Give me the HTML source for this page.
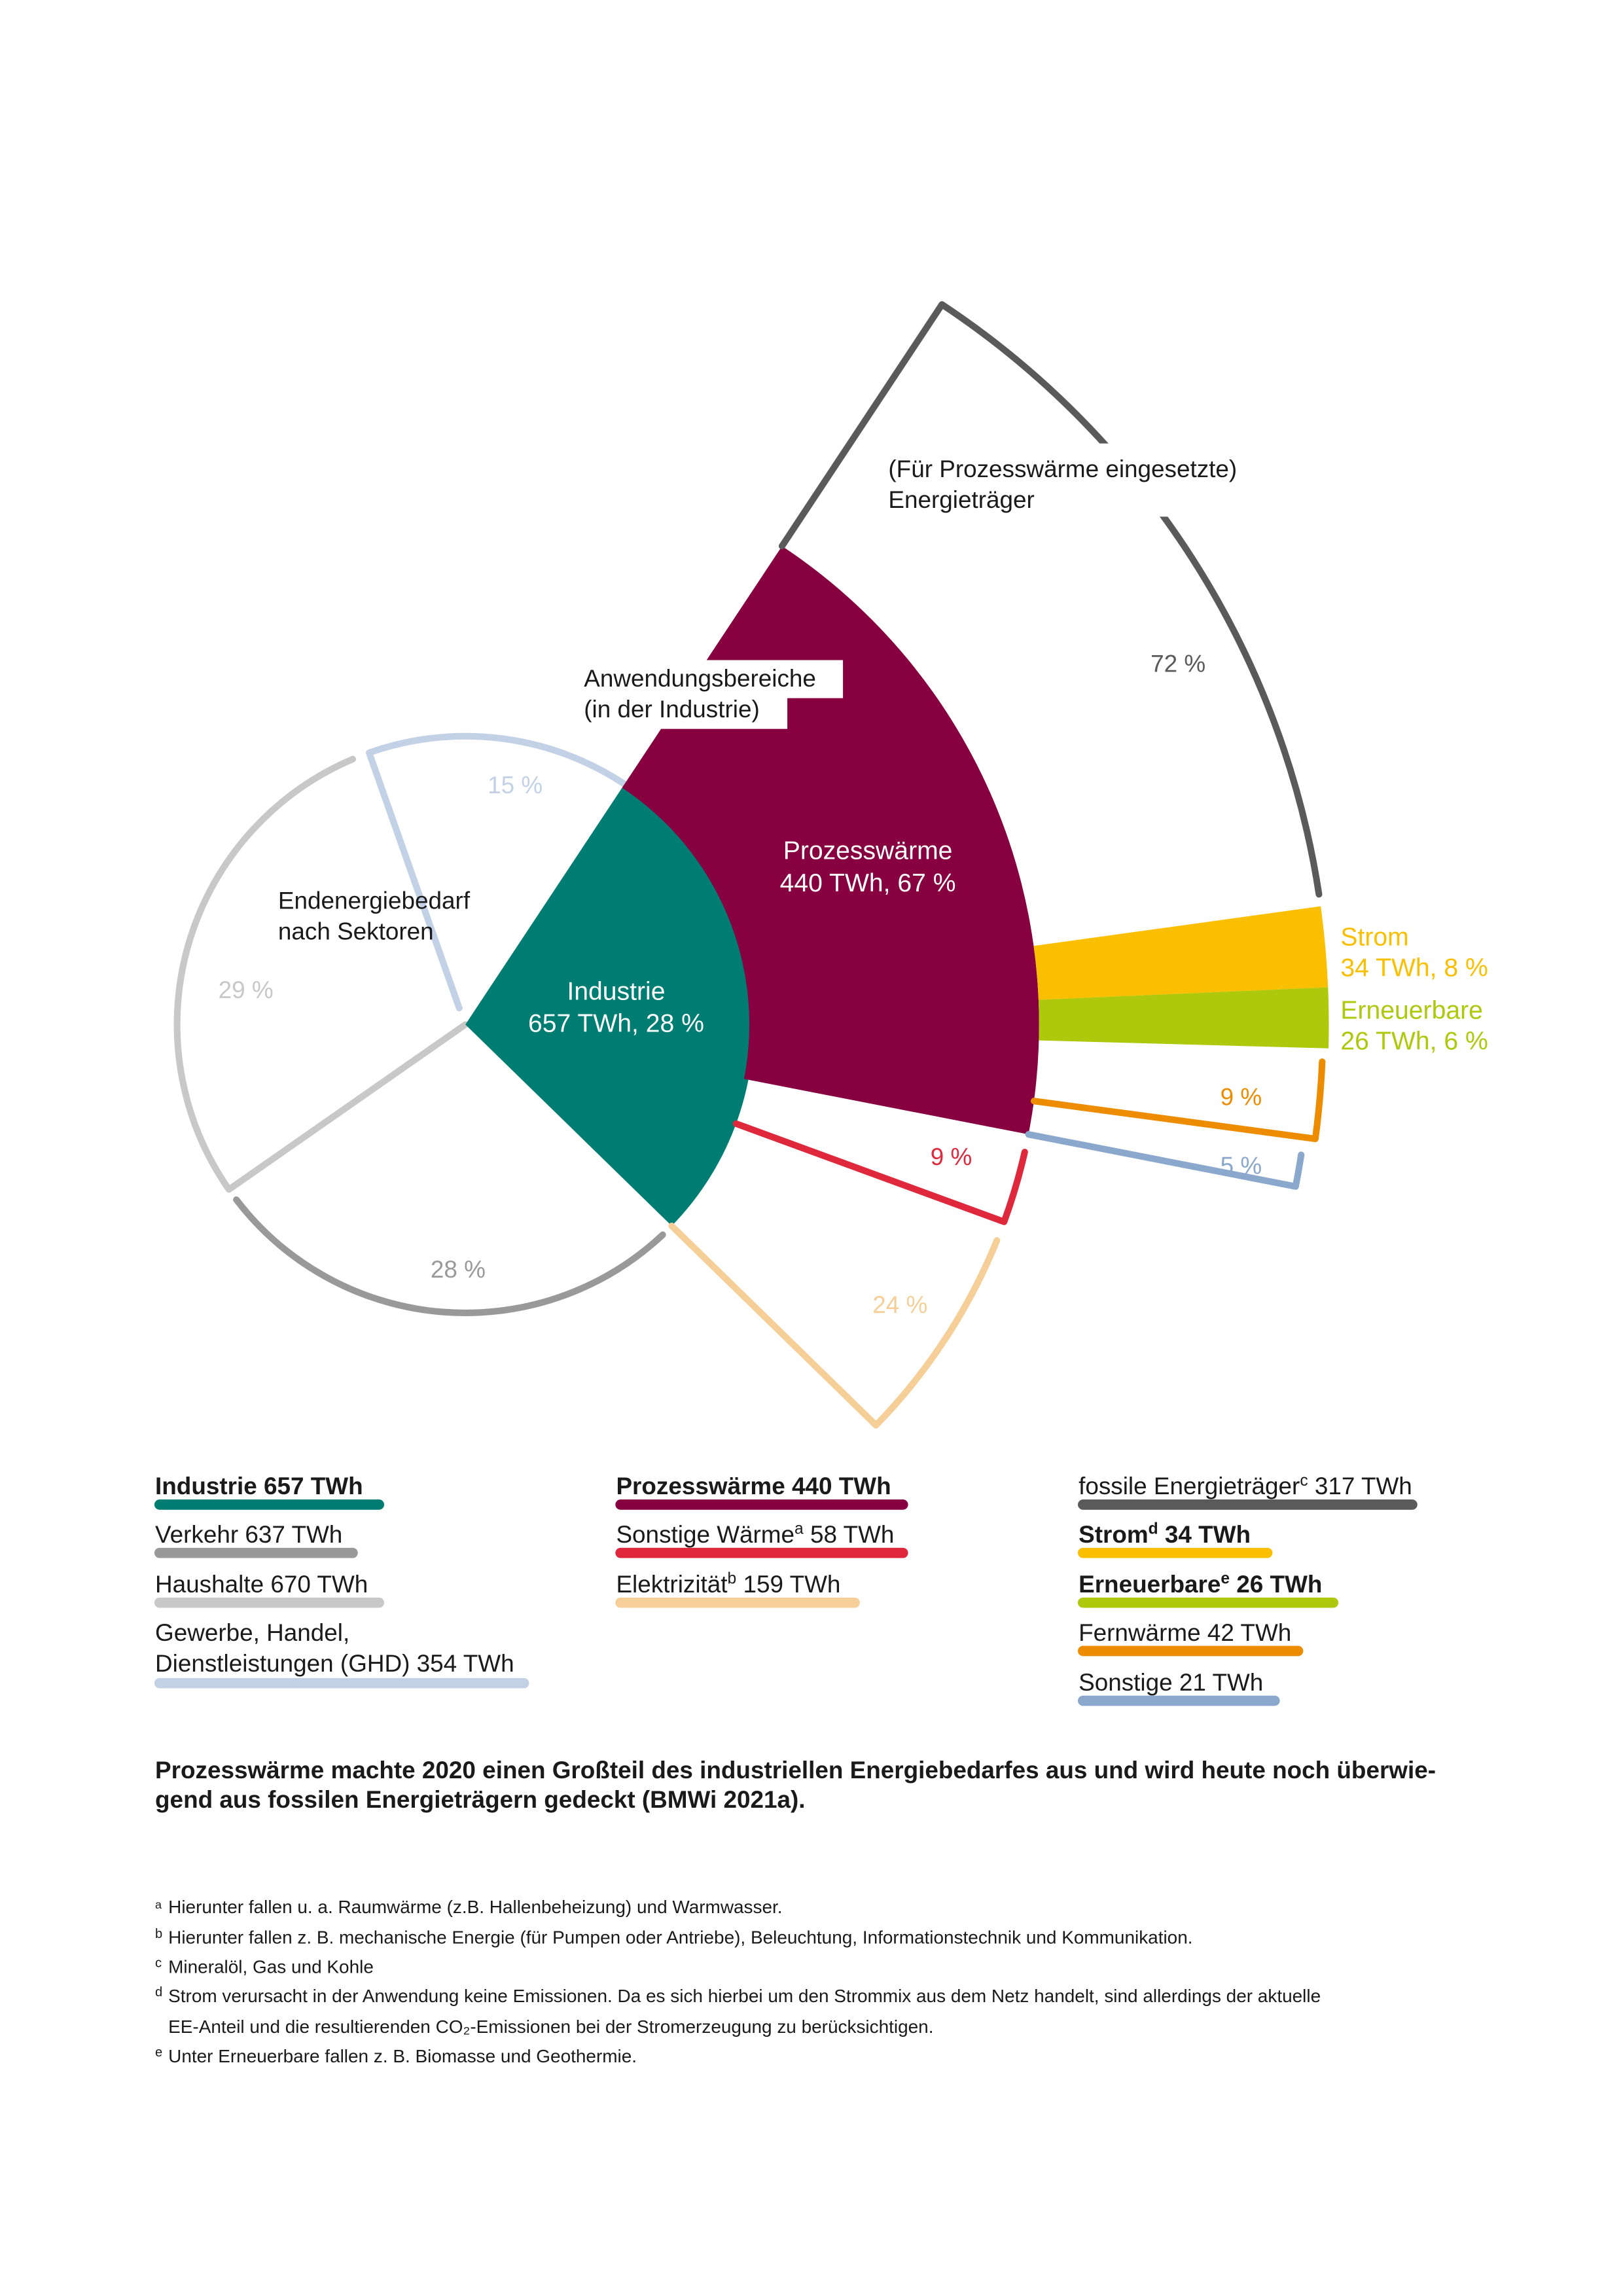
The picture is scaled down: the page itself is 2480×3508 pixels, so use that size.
<!DOCTYPE html>
<html><head><meta charset="utf-8">
<style>
html,body{margin:0;padding:0;background:#fff}
svg{display:block}
text{font-family:"Liberation Sans",sans-serif}
</style></head>
<body>
<svg id="chart" width="2480" height="3508" viewBox="0 0 1109 1568.7" xmlns="http://www.w3.org/2000/svg">
<g id="marks"></g>
<g id="labels" font-size="16.5">
  <text x="190" y="621" fill="#1a1a1a">Endenergiebedarf</text>
  <text x="190" y="642" fill="#1a1a1a">nach Sektoren</text>
  <text x="352" y="542" fill="#c3d1e6" text-anchor="middle">15 %</text>
  <text x="168" y="682" fill="#c8c8c8" text-anchor="middle">29 %</text>
  <text x="313" y="873" fill="#999" text-anchor="middle">28 %</text>
  <rect x="393" y="451" width="183" height="26" fill="#fff"/>
  <rect x="393" y="474" width="145" height="24" fill="#fff"/>
  <text x="399" y="469" fill="#1a1a1a">Anwendungsbereiche</text>
  <text x="399" y="490" fill="#1a1a1a">(in der Industrie)</text>
  <rect x="600" y="303" width="272" height="50" fill="#fff"/>
  <text x="607" y="326" fill="#1a1a1a">(Für Prozesswärme eingesetzte)</text>
  <text x="607" y="347" fill="#1a1a1a">Energieträger</text>
  <text x="805" y="459" fill="#5a5a5a" text-anchor="middle">72 %</text>
  <text x="593" y="587" fill="#fff" text-anchor="middle" font-size="17.5">Prozesswärme</text>
  <text x="593" y="609" fill="#fff" text-anchor="middle" font-size="17.5">440 TWh, 67 %</text>
  <text x="421" y="683" fill="#fff" text-anchor="middle" font-size="17.5">Industrie</text>
  <text x="421" y="705" fill="#fff" text-anchor="middle" font-size="17.5">657 TWh, 28 %</text>
  <text x="650" y="796" fill="#e0283c" text-anchor="middle">9 %</text>
  <text x="615" y="897" fill="#f5cf97" text-anchor="middle">24 %</text>
  <text x="916" y="646" fill="#f9bf00" font-size="17.5">Strom</text>
  <text x="916" y="667" fill="#f9bf00" font-size="17.5">34 TWh, 8 %</text>
  <text x="916" y="696" fill="#aec90b" font-size="17.5">Erneuerbare</text>
  <text x="916" y="717" fill="#aec90b" font-size="17.5">26 TWh, 6 %</text>
  <text x="848" y="755" fill="#ee8c00" text-anchor="middle">9 %</text>
  <text x="848" y="802" fill="#8aa8cc" text-anchor="middle">5 %</text>
</g>
<g id="legend" font-size="16.5" fill="#1a1a1a" stroke-linecap="round">
  <text x="106" y="1021" font-weight="bold">Industrie 657 TWh</text>
  <line x1="109" y1="1028" x2="259" y2="1028" stroke="#007d73" stroke-width="7"/>
  <text x="106" y="1054">Verkehr 637 TWh</text>
  <line x1="109" y1="1061" x2="241" y2="1061" stroke="#999" stroke-width="7"/>
  <text x="106" y="1088">Haushalte 670 TWh</text>
  <line x1="109" y1="1095" x2="259" y2="1095" stroke="#c8c8c8" stroke-width="7"/>
  <text x="106" y="1121">Gewerbe, Handel,</text>
  <text x="106" y="1142">Dienstleistungen (GHD) 354 TWh</text>
  <line x1="109" y1="1150" x2="358" y2="1150" stroke="#c3d1e6" stroke-width="7"/>
  <text x="421" y="1021" font-weight="bold">Prozesswärme 440 TWh</text>
  <line x1="424" y1="1028" x2="617" y2="1028" stroke="#870040" stroke-width="7"/>
  <text x="421" y="1054">Sonstige Wärme<tspan font-size="11" dy="-6">a</tspan><tspan dy="6"> 58 TWh</tspan></text>
  <line x1="424" y1="1061" x2="617" y2="1061" stroke="#e0283c" stroke-width="7"/>
  <text x="421" y="1088">Elektrizität<tspan font-size="11" dy="-6">b</tspan><tspan dy="6"> 159 TWh</tspan></text>
  <line x1="424" y1="1095" x2="584" y2="1095" stroke="#f5cf97" stroke-width="7"/>
  <text x="737" y="1021">fossile Energieträger<tspan font-size="11" dy="-6">c</tspan><tspan dy="6"> 317 TWh</tspan></text>
  <line x1="740" y1="1028" x2="965" y2="1028" stroke="#5a5a5a" stroke-width="7"/>
  <text x="737" y="1054" font-weight="bold">Strom<tspan font-size="11" dy="-6">d</tspan><tspan dy="6"> 34 TWh</tspan></text>
  <line x1="740" y1="1061" x2="866" y2="1061" stroke="#f9bf00" stroke-width="7"/>
  <text x="737" y="1088" font-weight="bold">Erneuerbare<tspan font-size="11" dy="-6">e</tspan><tspan dy="6"> 26 TWh</tspan></text>
  <line x1="740" y1="1095" x2="911" y2="1095" stroke="#aec90b" stroke-width="7"/>
  <text x="737" y="1121">Fernwärme 42 TWh</text>
  <line x1="740" y1="1128" x2="887" y2="1128" stroke="#ee8c00" stroke-width="7"/>
  <text x="737" y="1155">Sonstige 21 TWh</text>
  <line x1="740" y1="1162" x2="871" y2="1162" stroke="#8aa8cc" stroke-width="7"/>
</g>
<g font-size="16.5" font-weight="bold" fill="#1a1a1a">
  <text x="106" y="1215">Prozesswärme machte 2020 einen Großteil des industriellen Energiebedarfes aus und wird heute noch überwie-</text>
  <text x="106" y="1235">gend aus fossilen Energieträgern gedeckt (BMWi 2021a).</text>
</g>
<g font-size="12.5" fill="#1a1a1a">
  <text x="106" y="1304" font-size="8">a</text><text x="115" y="1307">Hierunter fallen u. a. Raumwärme (z.B. Hallenbeheizung) und Warmwasser.</text>
  <text x="106" y="1324" font-size="9">b</text><text x="115" y="1328">Hierunter fallen z. B. mechanische Energie (für Pumpen oder Antriebe), Beleuchtung, Informationstechnik und Kommunikation.</text>
  <text x="106" y="1344" font-size="9">c</text><text x="115" y="1348">Mineralöl, Gas und Kohle</text>
  <text x="106" y="1364" font-size="9">d</text><text x="115" y="1368">Strom verursacht in der Anwendung keine Emissionen. Da es sich hierbei um den Strommix aus dem Netz handelt, sind allerdings der aktuelle</text>
  <text x="115" y="1389">EE-Anteil und die resultierenden CO₂-Emissionen bei der Stromerzeugung zu berücksichtigen.</text>
  <text x="106" y="1405" font-size="9">e</text><text x="115" y="1409">Unter Erneuerbare fallen z. B. Biomasse und Geothermie.</text>
</g>
</svg>
<script>
// data (percent shares)
const sectorNames = ["Industrie","Verkehr","Haushalte","GHD"];
const sectorShares = [28, 28, 29, 15];
const useNames = ["Prozesswärme","Sonstige Wärme","Elektrizität"];
const useShares = [67, 9, 24];
const carrierNames = ["fossil","Strom","Erneuerbare","Fernwärme","Sonstige"];
const carrierShares = [72, 8, 6, 9, 5];

const CX = 318, CY = 700, R1 = 197, R2 = 392, R3 = 590, START = -56.5;
const NS = "http://www.w3.org/2000/svg";
const g = document.getElementById('marks');
function pt(r, a){ const t = a*Math.PI/180; return [CX + r*Math.cos(t), CY + r*Math.sin(t)]; }
function arc(r, a0, a1){ const p = pt(r,a1); const large = Math.abs(a1-a0)>180?1:0; const sw = a1>a0?1:0; return `A${r},${r} 0 ${large} ${sw} ${p[0].toFixed(2)},${p[1].toFixed(2)}`; }
function M(r,a){ const p=pt(r,a); return `M${p[0].toFixed(2)},${p[1].toFixed(2)}`; }
function L(r,a){ const p=pt(r,a); return `L${p[0].toFixed(2)},${p[1].toFixed(2)}`; }
function add(d, attrs, name){
  const p = document.createElementNS(NS,'path');
  p.setAttribute('d', d);
  for (const k in attrs) p.setAttribute(k, attrs[k]);
  
  
  g.appendChild(p);
}
const sa = []; let a = START;
sectorShares.forEach(s => { sa.push([a, a + s*3.6]); a += s*3.6; });
const ind = sa[0];
const span = ind[1]-ind[0];
const ua = []; a = ind[0];
useShares.forEach(s => { ua.push([a, a + s/100*span]); a += s/100*span; });
const pspan = ua[0][1]-ua[0][0];
const ca = []; a = ua[0][0];
carrierShares.forEach(s => { ca.push([a, a + s/100*pspan]); a += s/100*pspan; });

const line = (c)=>({fill:'none', stroke:c, 'stroke-width':4.5, 'stroke-linecap':'round', 'stroke-linejoin':'round'});
const gap = 2.5;
add(M(R1, sa[1][0]+gap) + arc(R1, sa[1][0]+gap, sa[1][1]-gap), line('#999'), 'sector-verkehr');
add(M(0, 0) + L(R1, sa[2][0]) + arc(R1, sa[2][0], sa[2][1]-gap), line('#c8c8c8'), 'sector-haushalte');
add(M(12, sa[3][0]) + L(R1, sa[3][0]+1) + arc(R1, sa[3][0]+1, sa[3][1]), line('#c3d1e6'), 'sector-ghd');
add(M(0,0) + L(R1, ind[0]) + arc(R1, ind[0], ind[1]) + 'Z', {fill:'#007d73'}, 'sector-industrie');
add(M(R1-3, ua[0][0]) + L(R2, ua[0][0]) + arc(R2, ua[0][0], ua[0][1]) + L(R1-3, ua[0][1]) + arc(R1-3, ua[0][1], ua[0][0]) + 'Z', {fill:'#870040'}, 'use-prozesswaerme');
add(M(R1, ua[1][1]) + L(R2, ua[1][1]) + arc(R2, ua[1][1], ua[1][0]+1.8), line('#e0283c'), 'use-sonstige-waerme');
add(M(R1, ua[2][1]) + L(R2, ua[2][1]) + arc(R2, ua[2][1], ua[2][0]+2), line('#f5cf97'), 'use-elektrizitaet');
add(M(R2, ca[0][0]) + L(R3, ca[0][0]) + arc(R3, ca[0][0], ca[0][1]-0.8), line('#5a5a5a'), 'carrier-fossil');
add(M(R2, ca[1][0]) + L(R3, ca[1][0]) + arc(R3, ca[1][0], ca[1][1]) + L(R2, ca[1][1]) + arc(R2, ca[1][1], ca[1][0]) + 'Z', {fill:'#f9bf00'}, 'carrier-strom');
add(M(R2, ca[2][0]) + L(R3, ca[2][0]) + arc(R3, ca[2][0], ca[2][1]) + L(R2, ca[2][1]) + arc(R2, ca[2][1], ca[2][0]) + 'Z', {fill:'#aec90b'}, 'carrier-erneuerbare');
add(M(R2, ca[3][1]) + L(R3-4, ca[3][1]) + arc(R3-4, ca[3][1], ca[3][0]+0.9), line('#ee8c00'), 'carrier-fernwaerme');
add(M(R2, ca[4][1]) + L(R3-12, ca[4][1]) + arc(R3-12, ca[4][1], ca[4][0]+1.2), line('#8aa8cc'), 'carrier-sonstige');
document.getElementById('chart').appendChild(document.getElementById('labels'));
</script>
</body></html>
